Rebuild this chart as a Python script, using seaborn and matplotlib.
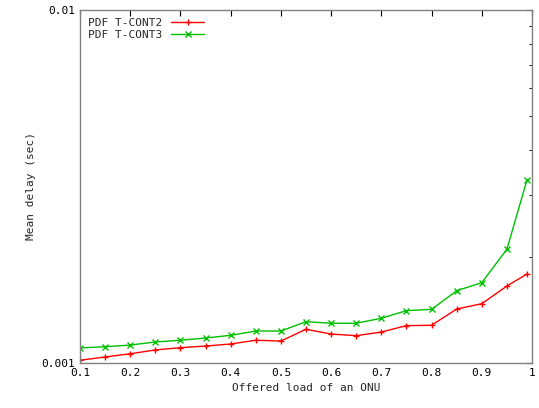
import matplotlib
matplotlib.use('Agg')
import matplotlib.pyplot as plt
import matplotlib.ticker as mticker
import seaborn as sns
import pandas as pd

load = [0.1, 0.15, 0.2, 0.25, 0.3, 0.35, 0.4, 0.45, 0.5, 0.55,
        0.6, 0.65, 0.7, 0.75, 0.8, 0.85, 0.9, 0.95, 0.99]
tcont2 = [1.018e-3, 1.040e-3, 1.062e-3, 1.089e-3, 1.105e-3, 1.117e-3, 1.132e-3, 1.160e-3, 1.154e-3, 1.246e-3,
          1.208e-3, 1.195e-3, 1.224e-3, 1.276e-3, 1.279e-3, 1.422e-3, 1.472e-3, 1.652e-3, 1.787e-3]
tcont3 = [1.103e-3, 1.112e-3, 1.124e-3, 1.147e-3, 1.160e-3, 1.177e-3, 1.198e-3, 1.232e-3, 1.232e-3, 1.309e-3,
          1.296e-3, 1.296e-3, 1.339e-3, 1.407e-3, 1.419e-3, 1.602e-3, 1.689e-3, 2.10e-3, 3.30e-3]
series_names = ['PDF T-CONT2', 'PDF T-CONT3']


def main():
    sns.set_style('white')
    plt.rcParams['font.family'] = ['DejaVu Sans Mono']
    plt.rcParams['font.size'] = 8

    df = pd.DataFrame({
        'load': load * 2,
        'delay': tcont2 + tcont3,
        'series': [series_names[0]] * len(load) + [series_names[1]] * len(load),
    })

    fig = plt.figure(figsize=(5.39, 4.08), dpi=100)
    ax = fig.add_axes([0.1484, 0.1103, 0.8386, 0.8652])
    sns.lineplot(data=df, x='load', y='delay', hue='series', style='series',
                 markers=['+', 'x'], dashes=False, palette=['#ff0000', '#00c000'],
                 linewidth=1, markersize=5, markeredgewidth=1, ax=ax)
    for line in ax.get_lines():
        line.set_markeredgecolor(line.get_color())

    ax.set_yscale('log')
    ax.set_xlim(0.1, 1.0)
    ax.set_ylim(0.001, 0.01)
    ax.set_xticks([0.1, 0.2, 0.3, 0.4, 0.5, 0.6, 0.7, 0.8, 0.9, 1.0])
    ax.set_xticklabels(['0.1', '0.2', '0.3', '0.4', '0.5', '0.6', '0.7', '0.8', '0.9', '1'])
    ax.set_yticks([0.001, 0.01])
    ax.set_yticklabels(['0.001', '0.01'])
    ax.yaxis.set_minor_locator(mticker.LogLocator(base=10, subs=range(2, 10)))
    ax.yaxis.set_minor_formatter(mticker.NullFormatter())
    ax.tick_params(which='major', direction='in', length=4, width=0.8, top=True, right=True, colors='black')
    ax.tick_params(which='minor', direction='in', length=2, width=0.8, top=True, right=True)
    for s in ax.spines.values():
        s.set_color('#808080')
        s.set_linewidth(1)

    ax.set_xlabel('Offered load of an ONU')
    ax.set_ylabel('Mean delay (sec)')

    leg = ax.legend(loc='upper left', markerfirst=False, frameon=False,
                    handlelength=3, borderaxespad=0.3, labelspacing=0.2)
    for h in leg.legend_handles:
        h.set_markeredgecolor(h.get_color())
    for t in leg.get_texts():
        t.set_fontsize(8)

    fig.savefig('out.png', dpi=100)


if __name__ == '__main__':
    main()
